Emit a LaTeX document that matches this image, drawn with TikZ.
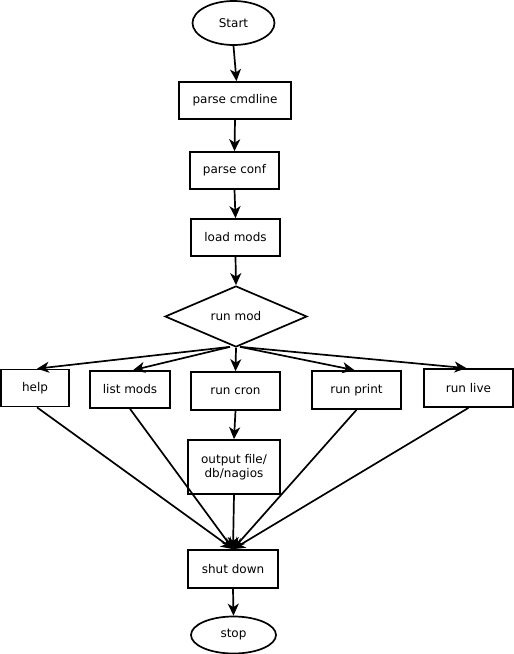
\documentclass[tikz,border=0pt]{standalone}
\usepackage{fontspec}
\setmainfont{DejaVu Sans}
\usetikzlibrary{shapes.geometric,arrows.meta}
\begin{document}
\begin{tikzpicture}[x=1pt,y=-1pt,
  every node/.style={font=\fontsize{12}{14.5}\selectfont, inner sep=0pt, line width=1.7pt},
  box/.style={draw, rectangle, align=center},
  oval/.style={draw, ellipse},
  conn/.style={line width=1.7pt, -{Stealth[length=12pt,width=11pt,inset=3.5pt]}}]
\useasboundingbox (0,0) rectangle (514,654);
\node[oval, minimum width=82, minimum height=44] (start) at (233.5,23) {Start};
\node[box, minimum width=112, minimum height=37] (pcl) at (235,100.5) {parse cmdline};
\node[box, minimum width=89, minimum height=37] (pcf) at (234.5,170.5) {parse conf};
\node[box, minimum width=89, minimum height=37] (lm) at (235.5,237.5) {load mods};
\node[draw, diamond, aspect=2.33, minimum width=142, minimum height=61] (rm) at (236,316.5) {run mod};
\node[box, minimum width=68, minimum height=37] (help) at (35,388) {help};
\node[box, minimum width=80, minimum height=37] (lsm) at (130,389.5) {list mods};
\node[box, minimum width=89, minimum height=38] (cron) at (235.5,391) {run cron};
\node[box, minimum width=89, minimum height=38] (print) at (356.5,390) {run print};
\node[box, minimum width=89, minimum height=38] (live) at (468.5,388) {run live};
\node[box, minimum width=92, minimum height=54] (out) at (234,467) {output file/\\db/nagios};
\node[box, minimum width=90, minimum height=38] (sd) at (233,569) {shut down};
\node[oval, minimum width=85, minimum height=37] (stop) at (233.5,635) {stop};

\draw[conn] (start.south) -- ([xshift=1.5pt]pcl.north);
\draw[conn] (pcl.south) -- (pcf.north);
\draw[conn] (pcf.south) -- (lm.north);
\draw[conn] (lm.south) -- (rm.north);
\draw[conn] ([xshift=-6pt,yshift=1pt]rm.south) -- ([xshift=2pt]help.north);
\draw[conn] ([xshift=-6pt,yshift=1pt]rm.south) -- ([xshift=3pt]lsm.north);
\draw[conn] (rm.south) -- (cron.north);
\draw[conn] ([xshift=4pt,yshift=1pt]rm.south) -- ([xshift=-2pt]print.north);
\draw[conn] ([xshift=4pt,yshift=1pt]rm.south) -- ([xshift=-2pt]live.north);
\draw[conn] (cron.south) -- (out.north);
\draw[conn] ([xshift=2pt]help.south) -- (sd.north);
\draw[conn] (lsm.south) -- (sd.north);
\draw[conn] (out.south) -- (sd.north);
\draw[conn] (print.south) -- (sd.north);
\draw[conn] (live.south) -- (sd.north);
\draw[conn] (sd.south) -- (stop.north);
\end{tikzpicture}
\end{document}
